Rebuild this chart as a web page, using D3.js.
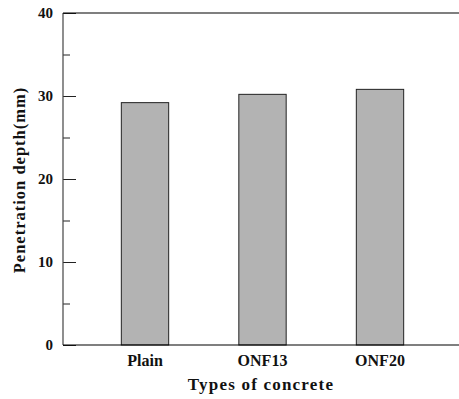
<!DOCTYPE html>
<html><head><meta charset="utf-8">
<script src="https://cdn.jsdelivr.net/npm/d3@7"></script>
<style>body{margin:0;background:#fff}svg{display:block}text{font-family:"Liberation Serif","Times New Roman",serif;font-weight:bold}</style>
</head><body><svg id="c" width="459" height="399"></svg>
<script>
const categories = ["Plain", "ONF13", "ONF20"];
const values = [29.2, 30.2, 30.8];
const yTicks = [0, 10, 20, 30, 40];
const yMinorTicks = [5, 15, 25, 35];
const xTitle = "Types of concrete";
const yTitle = "Penetration depth(mm)";

const svg = d3.select("#c");
const mLeft = 63, mRight = 459, mTop = 13, mBottom = 345;
const y = d3.scaleLinear().domain([0, 40]).range([mBottom, mTop]);
const x = d3.scaleBand().domain(categories).range([86.25, 438.75]).paddingInner(0.597).paddingOuter(0.2985);

// bars
svg.selectAll("rect.bar").data(values).enter().append("rect")
  .attr("x", (d, i) => x(categories[i]))
  .attr("y", d => y(d))
  .attr("width", x.bandwidth())
  .attr("height", d => y(0) - y(d))
  .attr("fill", "#b3b3b3").attr("stroke", "#222").attr("stroke-width", 1);

// y axis major
const yAx = svg.append("g").attr("transform", `translate(${mLeft},0)`)
  .call(d3.axisRight(y).tickValues(yTicks).tickSize(13).tickFormat(""));
yAx.select(".domain").remove();
yAx.selectAll("line").attr("stroke", "#222");
const yMin = svg.append("g").attr("transform", `translate(${mLeft},0)`)
  .call(d3.axisRight(y).tickValues(yMinorTicks).tickSize(7).tickFormat(""));
yMin.select(".domain").remove();
yMin.selectAll("line").attr("stroke", "#222");

svg.selectAll("text.ytl").data(yTicks).enter().append("text")
  .attr("x", 53).attr("y", d => y(d) + 5).attr("text-anchor", "end")
  .attr("font-size", 15).attr("fill", "#111").text(d => d);

// axis lines
svg.append("line").attr("x1", mLeft).attr("x2", mLeft).attr("y1", mTop).attr("y2", mBottom).attr("stroke", "#444").attr("stroke-width", 1.2);
svg.append("line").attr("x1", mLeft).attr("x2", mRight).attr("y1", mTop).attr("y2", mTop).attr("stroke", "#000").attr("stroke-width", 1.2);
svg.append("line").attr("x1", mLeft).attr("x2", mRight).attr("y1", mBottom).attr("y2", mBottom).attr("stroke", "#000").attr("stroke-width", 1.2);

// x labels
const xAx = svg.append("g").attr("transform", `translate(0,${mBottom})`)
  .call(d3.axisBottom(x).tickSize(0).tickPadding(0));
xAx.select(".domain").remove();
xAx.selectAll("text").attr("y", 21).attr("dy", null).attr("font-size", 16).attr("fill", "#111")
  .attr("font-family", '"Liberation Serif",serif').attr("font-weight", "bold");

svg.append("text").attr("x", 261).attr("y", 390).attr("text-anchor", "middle")
  .attr("font-size", 17).attr("letter-spacing", 1.2).attr("fill", "#111").text(xTitle);
svg.append("text").attr("transform", "translate(25,180) rotate(-90)").attr("text-anchor", "middle")
  .attr("font-size", 16.5).attr("letter-spacing", 1).attr("fill", "#111").text(yTitle);
</script></body></html>
